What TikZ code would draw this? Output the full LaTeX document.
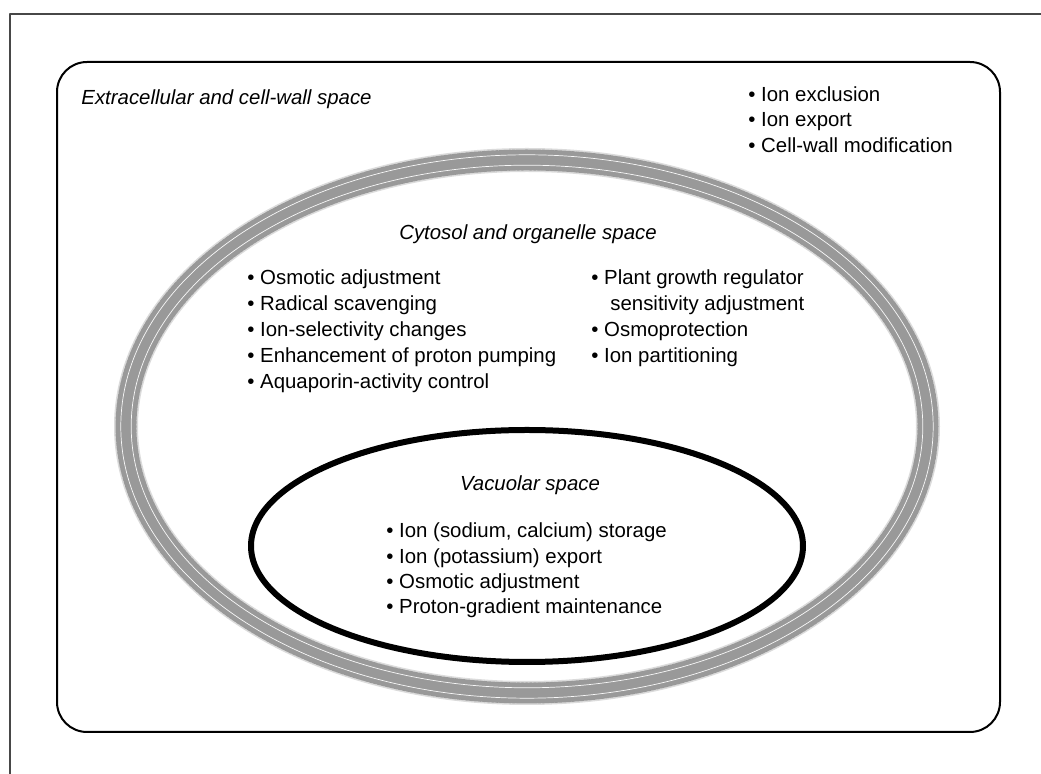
\documentclass[tikz,border=0pt]{standalone}
\usepackage{fontspec}
\setmainfont{Liberation Sans}
\colorlet{RingGray}{black!14}
\colorlet{RingDots}{black!40}
\colorlet{FrameGray}{black!72}
\newcommand{\itemlist}[5]{%
	\foreach \itm [count=\ii] in {#5}{%
		\node[entry] (#4\ii) at (#1,{#2+(\ii-1)*#3}) {\textbullet\ \itm};
	}
}
\newcommand{\ringband}[3]{%
	\draw[RingGray, line width=12pt] (#1,#2) ellipse [x radius=200.5pt, y radius=133.25pt];
	\draw[RingDots, line width=10.5pt, dash pattern=on 1pt off 1.1pt]
	(#1,#2) ellipse [x radius=200.5pt, y radius=133.25pt];
	\foreach \dd in {-2.6,2.6}{%
		\draw[white!80!RingGray, line width=#3]
		(#1,#2) ellipse [x radius={200.5pt+\dd pt}, y radius={133.25pt+\dd pt}];
	}
}

\begin{document}
\begin{tikzpicture}[x=0.5pt, y=-0.5pt, font=\fontsize{10.2}{12}\selectfont,
	line cap=round, line join=round,
	entry/.style={anchor=base west, inner sep=0pt},
	spacename/.style={anchor=base, inner sep=0pt, font=\fontsize{10.2}{12}\selectfont\itshape}]
	
	\useasboundingbox (0,0) rectangle (1041,774);
	
	% -- Page frame (top and left edge only) ----------------------
	\draw[FrameGray, line width=0.7pt] (10,774) -- (10,14) -- (1041,14);
	
	% -- Extracellular and cell-wall space ------------------------
	\draw[line width=1pt, rounded corners=15pt] (57,62) rectangle (1000,732);
	\node[spacename, anchor=base west] (extra) at (81,105) {Extracellular and cell-wall space};
	\itemlist{748}{101.5}{25.5}{ext}{Ion exclusion, Ion export, Cell-wall modification}
	
	% -- Cytosol and organelle space (dotted ring) ----------------
	\ringband{527}{426.5}{0.35pt}
	\node[spacename] (cyto) at (528,240) {Cytosol and organelle space};
	\itemlist{247}{285}{25.8}{cytL}{Osmotic adjustment, Radical scavenging,
		Ion-selectivity changes, Enhancement of proton pumping,
		Aquaporin-activity control}
	\node[entry] (cytR1) at (591,285) {\textbullet\ Plant growth regulator};
	\node[entry] (cytR1b) at (610,310.8) {sensitivity adjustment};
	\node[entry] (cytR2) at (591,336.6) {\textbullet\ Osmoprotection};
	\node[entry] (cytR3) at (591,362.4) {\textbullet\ Ion partitioning};
	
	% -- Vacuolar space (thick ellipse) ---------------------------
	\draw[line width=3pt] (527,546) ellipse [x radius=138pt, y radius=58pt];
	\node[spacename] (vac) at (530,491) {Vacuolar space};
	\itemlist{386}{538}{25.3}{vacL}{{Ion (sodium, calcium) storage},
		{Ion (potassium) export}, Osmotic adjustment,
		Proton-gradient maintenance}
	
\end{tikzpicture}
\end{document}
